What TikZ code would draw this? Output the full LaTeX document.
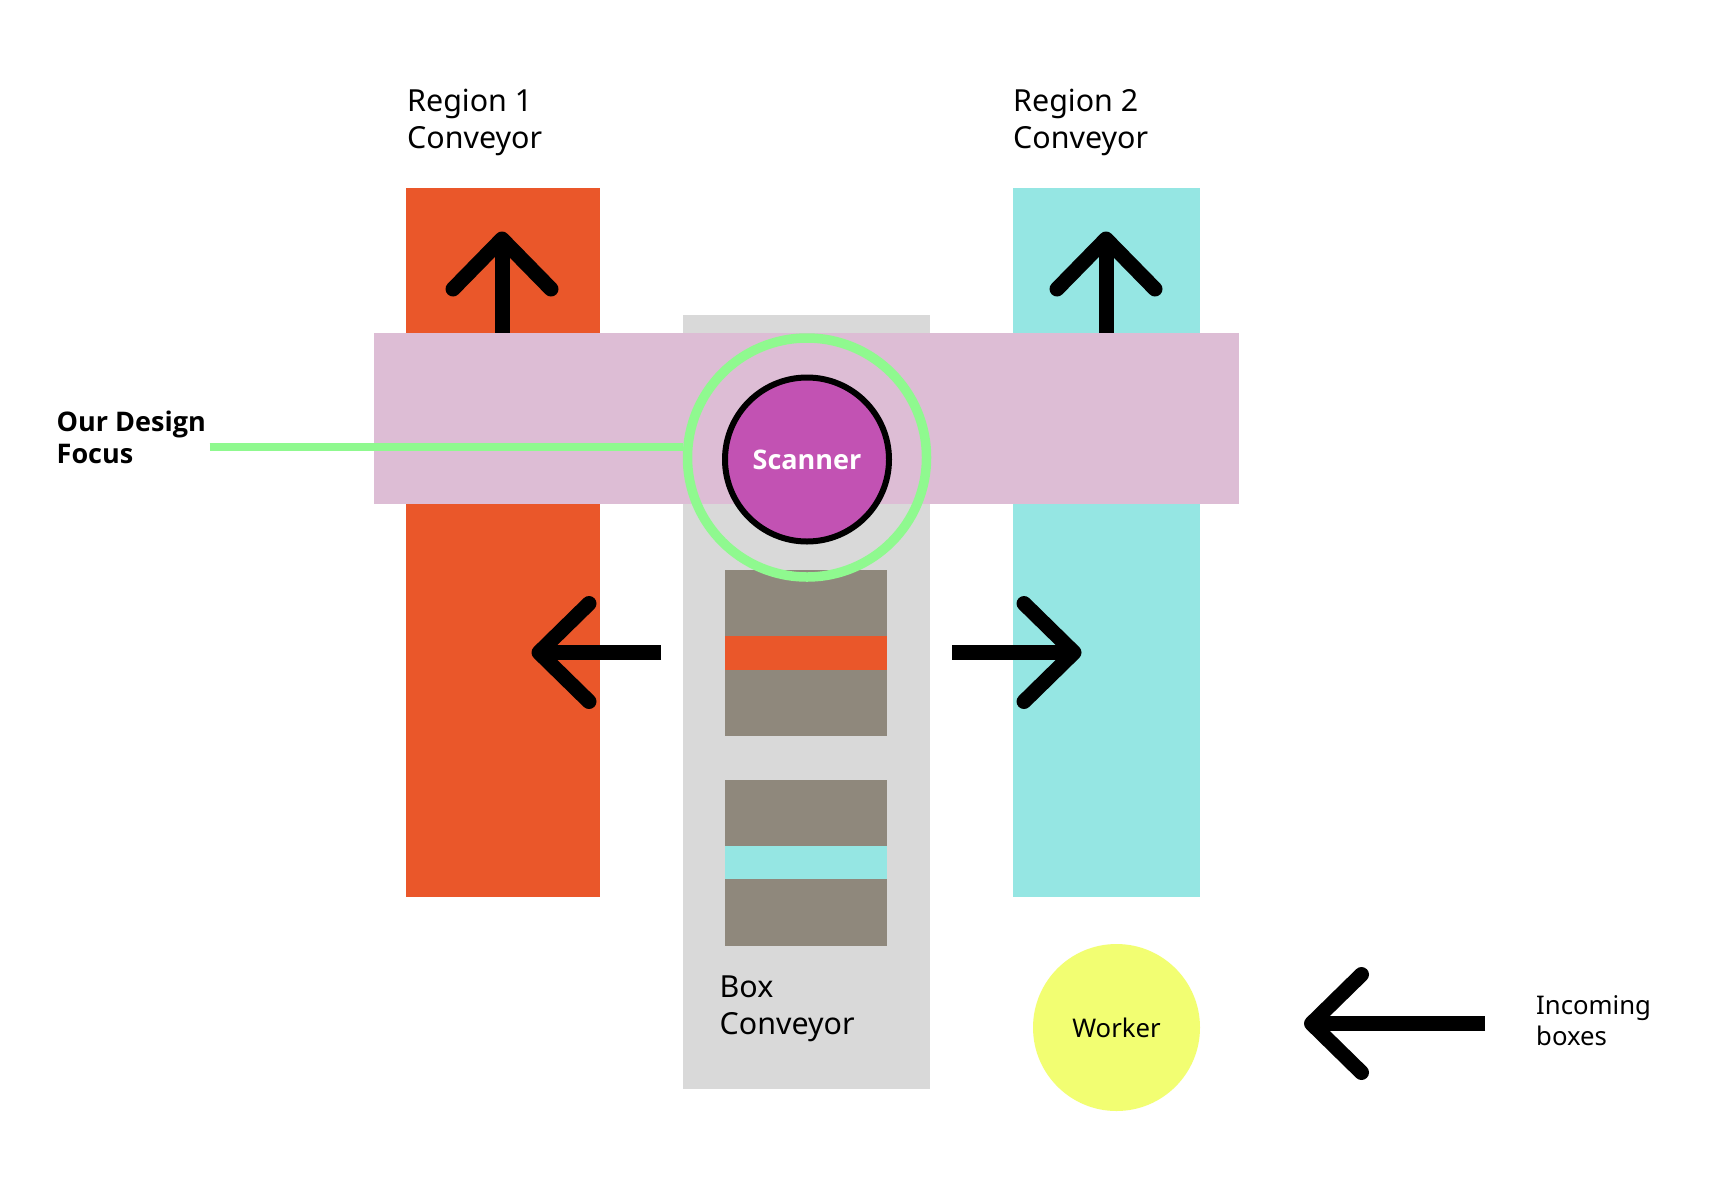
\documentclass[tikz,border=0pt]{standalone}
\usepackage{fontspec}
\setmainfont{Noto Sans}
\newfontfamily\heavyfont{Open Sans}
\usetikzlibrary{arrows.meta}

\definecolor{regionone}{HTML}{EA572A}
\definecolor{regiontwo}{HTML}{95E6E3}
\definecolor{belt}{HTML}{D9D9D9}
\definecolor{band}{HTML}{DDBDD5}
\definecolor{parcel}{HTML}{8F887C}
\definecolor{scan}{HTML}{C252B3}
\definecolor{focus}{HTML}{8FF98F}
\definecolor{helper}{HTML}{F2FE72}

\begin{document}
\begin{tikzpicture}[x=1pt,y=-1pt]

\tikzset{caption/.style = {anchor=north west, inner sep=0pt, align=left, font=\fontsize{30.4}{36.6}\selectfont}}
\tikzset{note/.style = {anchor=north west, inner sep=0pt, align=left, font=\fontsize{25.7}{31.6}\selectfont}}
\tikzset{bigarrow/.style = {line width=15pt, -{Straight Barb[round, length=50pt, width=98pt]}}}
\tikzset{scanner/.style = {shape=circle, draw=black, line width=6pt, fill=scan, minimum size=164pt, text=white, font=\fontsize{27}{30}\heavyfont\bfseries}}
\tikzset{ring/.style = {shape=circle, draw=focus, line width=9.5pt, minimum size=239pt}}
\tikzset{worker/.style = {shape=circle, fill=helper, minimum size=167pt, font=\fontsize{25.7}{30}\selectfont}}

\fill[white] (0,0) rectangle (1728,1202);
\useasboundingbox (0,0) rectangle (1728,1202);

%conveyors
\fill[regionone] (406,188) rectangle (600,897);
\fill[regiontwo] (1013,188) rectangle (1200,897);
\fill[belt] (683,315) rectangle (930,1089);

%outgoing arrows
\coordinate (up1tail) at (502,333);
\coordinate (up1head) at (502,231.5);
\coordinate (up2tail) at (1106,333);
\coordinate (up2head) at (1106,231.5);
\draw[bigarrow] (up1tail) -- (up1head);
\draw[bigarrow] (up2tail) -- (up2head);

%scanning band
\fill[band] (373.5,333) rectangle (1238.5,504);

%boxes
\fill[parcel] (725,570) rectangle (887,736);
\fill[regionone] (725,636) rectangle (887,670);
\fill[parcel] (725,780) rectangle (887,946);
\fill[regiontwo] (725,846) rectangle (887,879);

%scanner
\node[scanner] (scanner) at (807,459.5) {Scanner};
\node[ring] (ring) at (807,457.5) {};

%labels
\node[caption] (region1) at (407,89) {Region 1\\Conveyor};
\node[caption] (region2) at (1013,89) {Region 2\\Conveyor};
\node[caption] (boxbelt) at (719.5,976) {Box\\Conveyor};
\node[note, font=\fontsize{27}{31.6}\heavyfont\bfseries] (design) at (56.5,411) {Our Design\\Focus};
\node[note] (incoming) at (1536,995) {Incoming\\boxes};

%focus pointer
\coordinate (focusstart) at (209.5,447);
\draw[focus, line width=7.5pt] (focusstart) -- (focusstart -| ring.west);

%sorting arrows
\coordinate (lefttail) at (661,652.5);
\coordinate (lefthead) at (531.5,652.5);
\coordinate (righttail) at (952,652.5);
\coordinate (righthead) at (1081.5,652.5);
\draw[bigarrow] (lefttail) -- (lefthead);
\draw[bigarrow] (righttail) -- (righthead);

%worker
\node[worker] (worker) at (1116.5,1027.5) {Worker};
\coordinate (intail) at (1485,1023.5);
\coordinate (inhead) at (1304,1023.5);
\draw[bigarrow] (intail) -- (inhead);

\end{tikzpicture}
\end{document}
